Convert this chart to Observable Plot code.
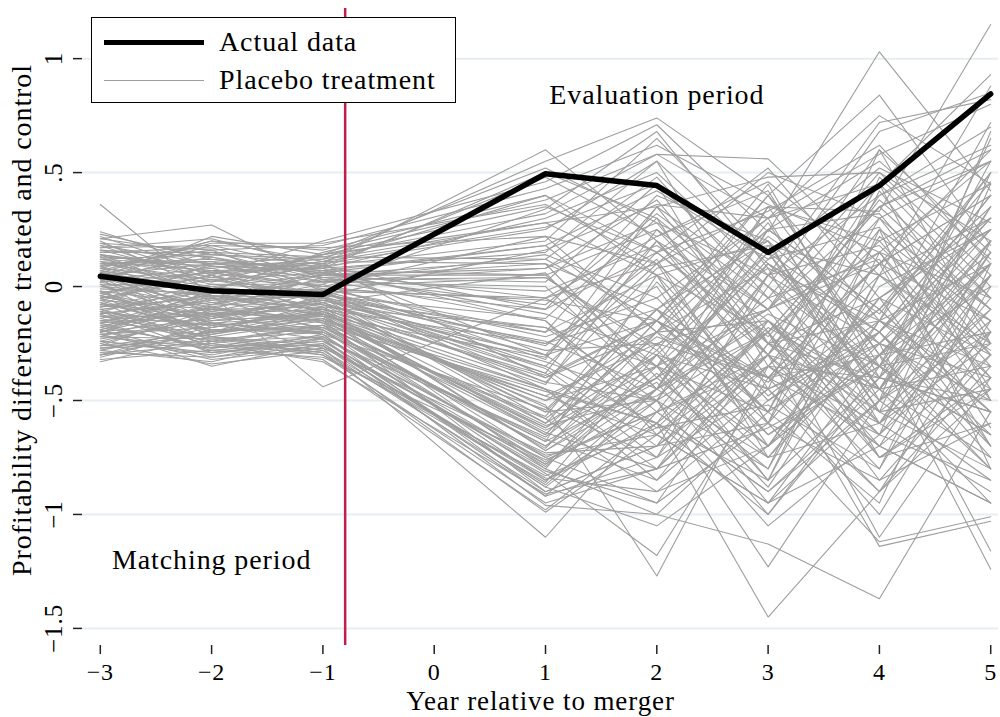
<!DOCTYPE html>
<html><head><meta charset="utf-8">
<script src="https://cdn.jsdelivr.net/npm/d3@7"></script>
<script src="https://cdn.jsdelivr.net/npm/@observablehq/plot@0.6"></script>
<style>
body{margin:0;background:#fff;}
#wrap{position:relative;width:1000px;height:717px;overflow:hidden;}
#legend{position:absolute;left:91px;top:17px;width:363px;height:84px;border:1.5px solid #000;background:#fff;font-family:"Liberation Serif",serif;font-size:28px;letter-spacing:0.9px;color:#000;}
#legend .sw{position:absolute;left:12px;width:100px;}
#legend .lb{position:absolute;left:127px;line-height:30px;white-space:nowrap;}
</style></head>
<body><div id="wrap"></div>
<script>
const years = [-3,-2,-1,1,2,3,4,5];
const xTicks = [-3,-2,-1,0,1,2,3,4,5];
const yTicks = [-1.5,-1,-0.5,0,0.5,1];
const treatmentYear = [-0.8];
const actual = [0.045,-0.018,-0.035,0.495,0.443,0.15,0.443,0.845];
const placebo = [
[0.36,-0.04,-0.08,-0.30,-0.15,-0.42,0.05,-0.28],
[0.23,0.12,0.06,0.18,0.42,0.12,0.52,0.28],
[0.21,0.27,0.03,0.04,-0.26,0.22,-0.12,0.46],
[0.19,0.05,0.20,0.46,0.71,0.24,1.03,0.42],
[0.17,0.18,0.17,0.22,0.10,0.35,0.33,1.15],
[0.14,0.08,0.12,0.55,0.74,0.40,0.84,0.18],
[0.12,0.14,0.10,0.60,0.20,-0.10,0.45,0.93],
[0.20,-0.02,0.15,0.38,0.58,0.56,0.10,0.60],
[0.10,0.11,0.08,0.30,0.50,0.05,0.72,0.82],
[0.08,0.02,0.14,0.28,0.35,0.48,0.50,0.05],
[0.16,0.13,0.02,0.14,-0.05,0.30,0.58,0.80],
[0.05,0.10,0.09,0.20,0.65,0.15,-0.20,0.25],
[0.13,-0.05,0.05,0.08,0.28,-0.30,0.40,0.62],
[0.02,0.06,0.11,0.10,-0.40,0.12,0.26,-0.45],
[0.09,0.16,-0.02,-0.05,0.22,0.42,-0.35,0.10],
[0.00,0.04,0.00,-0.10,0.15,-0.22,0.30,0.55],
[-0.02,-0.08,0.07,-0.15,-0.55,0.05,0.18,-0.30],
[0.07,0.00,-0.05,-0.20,0.05,-0.48,-0.10,0.35],
[-0.05,0.03,-0.03,-0.25,-0.10,0.20,-0.60,0.15],
[0.04,-0.10,0.04,-0.08,0.32,-0.05,0.12,-0.62],
[-0.08,-0.12,-0.06,-0.30,-0.62,-0.18,-0.45,0.05],
[0.11,0.07,-0.08,-0.35,0.10,-0.60,0.22,-0.15],
[-0.10,-0.04,-0.10,-0.40,-0.20,0.08,-0.75,-0.40],
[0.06,-0.15,-0.12,-0.45,-0.80,-0.35,0.10,0.40],
[-0.12,-0.06,-0.04,-0.38,0.25,-0.25,-0.05,-0.70],
[-0.15,-0.10,-0.14,-0.50,-0.35,-0.70,-0.30,0.20],
[0.03,-0.18,-0.09,-0.55,-0.10,0.30,-0.50,-0.20],
[-0.18,-0.02,-0.16,-0.48,-0.65,-0.20,0.35,-0.10],
[-0.07,-0.20,-0.11,-0.60,-0.30,-0.85,-0.40,-0.55],
[-0.20,-0.14,-0.07,-0.42,-0.50,0.10,-0.20,0.30],
[0.01,-0.22,-0.15,-0.65,-0.15,-0.40,-0.90,-0.35],
[-0.22,-0.09,-0.18,-0.58,-0.90,-0.50,-0.15,0.10],
[-0.04,-0.16,-0.20,-0.70,-0.40,-0.10,0.15,-0.50],
[-0.25,-0.12,-0.13,-0.62,-0.20,-0.65,-0.35,-0.80],
[-0.14,-0.24,-0.22,-0.75,-0.55,-0.30,-0.70,0.05],
[-0.09,-0.05,-0.19,-0.68,0.05,-0.75,-0.25,-0.40],
[-0.28,-0.18,-0.10,-0.72,-0.45,-0.05,-0.60,-0.25],
[-0.16,-0.28,-0.24,-0.80,-1.00,-0.55,-0.20,-0.65],
[-0.30,-0.20,-0.17,-0.78,-0.35,-0.95,-0.50,0.15],
[-0.11,-0.26,-0.26,-0.85,-0.60,-0.20,-0.85,-0.30],
[-0.24,-0.30,-0.21,-0.82,-1.18,-0.40,-0.10,-0.55],
[-0.33,-0.22,-0.28,-0.90,-0.70,-0.60,-1.12,-1.01],
[-0.19,-0.35,-0.25,-0.88,-0.50,-1.05,-0.65,-0.20],
[-0.27,-0.25,-0.30,-0.95,-0.80,-0.30,-1.14,-1.03],
[-0.21,-0.32,-0.27,-1.10,-0.55,-0.90,-0.45,-0.75],
[-0.13,-0.17,-0.23,-0.96,-1.00,-1.13,-1.37,-0.55],
[-0.06,-0.21,-0.12,-0.52,-1.27,-0.35,-0.60,-0.10],
[-0.17,-0.11,-0.15,-0.45,-0.60,-1.45,-0.90,-0.45],
[-0.03,-0.13,-0.06,-0.33,-0.50,-1.23,-0.50,-0.85],
[0.05,-0.07,-0.03,-0.28,-0.25,-0.40,-0.30,-1.24],
[-0.01,-0.03,-0.01,-0.22,-0.05,-0.55,-0.25,-1.16],
[0.08,0.03,0.06,-0.12,-0.30,0.15,-0.45,-0.95],
[0.12,0.09,0.04,0.02,0.45,-0.35,0.25,-0.80],
[0.15,0.15,0.13,0.12,-0.15,0.45,-0.40,0.65],
[0.18,0.10,0.10,0.25,0.55,-0.25,0.38,-0.05],
[0.06,0.20,0.16,0.40,0.05,0.20,-0.55,0.50],
[0.22,0.06,0.08,0.50,0.30,-0.45,0.60,-0.25],
[0.11,0.01,0.01,0.34,0.68,0.08,-0.15,0.72],
[0.03,0.08,-0.04,0.16,0.36,0.30,0.45,-0.50],
[-0.06,0.05,-0.07,0.06,-0.45,0.18,0.05,0.30],
[0.09,-0.06,0.03,-0.02,0.18,-0.15,-0.65,0.45],
[-0.11,0.00,-0.09,-0.18,-0.35,0.35,0.20,-0.35],
[0.00,-0.09,-0.02,-0.26,0.12,-0.60,0.48,0.00],
[-0.08,-0.14,-0.05,-0.36,-0.70,0.00,-0.35,0.55],
[-0.14,-0.01,-0.11,-0.43,0.20,-0.30,-0.80,0.20],
[0.04,-0.17,-0.14,-0.48,-0.25,-0.85,0.05,-0.40],
[-0.20,-0.08,-0.08,-0.53,-0.75,-0.15,-0.45,0.35],
[-0.05,-0.19,-0.18,-0.57,0.02,-0.50,-0.20,-0.75],
[-0.23,-0.15,-0.12,-0.63,-0.40,-0.80,0.25,-0.10],
[-0.10,-0.23,-0.20,-0.67,-0.85,-0.25,-0.55,-0.45],
[-0.26,-0.10,-0.16,-0.71,-0.20,-0.45,-1.00,-0.20],
[-0.17,-0.27,-0.22,-0.74,-0.65,-0.95,-0.30,0.10],
[-0.31,-0.19,-0.19,-0.77,-0.45,-0.20,-0.75,-0.60],
[-0.12,-0.29,-0.24,-0.81,-0.95,-0.60,-0.05,-0.30],
[-0.22,-0.23,-0.29,-0.86,-0.30,-0.75,-0.60,-0.90],
[-0.29,-0.31,-0.26,-0.92,-0.75,-0.45,-0.90,-0.15],
[-0.18,-0.26,-0.32,-0.98,-0.60,-1.00,-0.40,-0.50],
[-0.25,-0.34,-0.28,-0.84,-0.90,-0.70,-0.20,-0.70],
[-0.32,-0.28,-0.31,-0.76,-0.55,-0.35,-0.70,-0.95],
[0.14,-0.04,-0.44,-0.05,-0.35,0.10,-0.20,0.40],
[0.02,0.22,0.14,0.52,0.28,0.05,0.40,0.70],
[0.19,0.16,0.18,0.43,0.62,0.36,0.15,0.55],
[0.07,0.19,0.19,0.36,0.10,0.50,0.30,-0.10],
[0.16,0.04,0.11,0.26,0.45,0.00,0.68,0.85],
[0.10,0.12,0.07,0.18,-0.20,0.25,0.55,0.12],
[-0.04,0.09,0.02,0.08,0.38,-0.20,0.35,0.60],
[0.05,-0.11,-0.01,-0.06,-0.15,0.40,-0.30,0.25],
[-0.09,-0.02,-0.04,-0.14,0.30,-0.10,0.10,-0.15],
[-0.13,-0.13,-0.06,-0.24,-0.45,0.25,-0.10,0.50],
[0.01,-0.16,-0.13,-0.31,0.15,-0.25,-0.40,0.05],
[-0.19,-0.05,-0.10,-0.39,-0.15,-0.55,0.30,-0.30],
[-0.02,-0.24,-0.17,-0.46,-0.60,0.05,-0.25,0.15],
[-0.16,-0.12,-0.21,-0.54,-0.10,-0.40,-0.65,-0.05],
[-0.26,-0.20,-0.14,-0.61,-0.48,-0.12,-0.35,-0.65],
[-0.07,-0.27,-0.23,-0.66,-0.28,-0.70,0.00,0.25],
[-0.21,-0.16,-0.27,-0.73,-0.70,-0.30,-0.45,-0.35],
[-0.28,-0.33,-0.22,-0.79,-0.38,-0.88,-0.15,-0.55],
[-0.15,-0.22,-0.30,-0.83,-0.62,-0.52,-0.80,0.00],
[-0.24,-0.29,-0.25,-0.87,-0.45,-0.15,-0.55,-0.80],
[-0.30,-0.25,-0.33,-0.91,-0.80,-0.62,-0.35,-0.25],
[0.13,0.10,0.13,0.32,0.58,0.30,0.75,0.45],
[0.17,0.21,0.09,0.48,0.22,0.46,0.05,0.88],
[0.04,0.13,0.05,0.12,0.48,-0.05,0.50,0.20],
[-0.03,0.07,0.00,0.04,-0.28,0.28,-0.45,0.10],
[0.24,0.09,0.07,0.05,-0.35,-0.10,0.35,0.55],
[0.21,0.14,0.12,0.28,0.05,-0.20,0.15,-0.40],
[0.18,0.02,0.09,-0.10,0.40,0.20,-0.25,0.30],
[0.15,0.17,0.04,0.10,-0.10,-0.55,0.42,-0.20],
[0.12,0.04,0.14,0.35,0.15,0.52,-0.05,0.25],
[0.09,0.11,-0.01,-0.20,0.35,0.00,-0.50,0.68],
[0.06,-0.01,0.10,-0.40,-0.15,0.25,-0.10,-0.55],
[0.03,0.15,0.03,-0.15,-0.65,-0.30,0.20,0.45],
[0.00,-0.04,-0.05,-0.60,-0.10,-0.65,-0.30,0.00],
[-0.03,0.07,0.08,-0.30,0.20,-0.40,0.10,-0.70],
[-0.06,-0.10,-0.09,-0.72,-0.40,0.15,-0.55,-0.15],
[-0.09,0.01,-0.02,-0.45,-0.85,-0.45,-0.20,0.40],
[-0.12,-0.07,-0.12,-0.80,-0.25,-0.10,-0.75,-0.45],
[-0.15,-0.15,-0.07,-0.55,-0.50,-0.80,0.05,-0.25],
[-0.18,-0.09,-0.15,-0.90,-0.70,-0.35,-0.40,0.20],
[-0.21,-0.18,-0.11,-0.65,-0.15,-0.60,-0.85,-0.60],
[-0.24,-0.13,-0.19,-0.85,-0.55,-0.90,-0.50,-0.10],
[-0.27,-0.21,-0.14,-0.75,-0.95,-0.25,-0.65,-0.85],
[-0.30,-0.16,-0.21,-0.92,-0.45,-0.75,-0.15,-0.35],
[-0.10,-0.25,-0.17,-0.62,-0.35,-0.55,-0.95,0.10],
[-0.02,-0.20,-0.07,-0.38,-0.75,0.05,-0.40,-0.55],
[0.07,-0.12,-0.10,-0.25,0.00,-0.70,-0.05,0.30],
[0.11,-0.03,0.02,0.00,-0.45,0.35,-0.30,-0.20],
[-0.05,0.05,-0.12,-0.50,-0.20,-0.15,-0.70,-0.95],
[-0.16,-0.03,-0.03,-0.35,-0.60,-0.85,0.15,-0.05],
[-0.22,-0.27,-0.18,-0.70,-0.30,-0.45,-0.25,-0.50],
[0.01,0.00,0.05,0.05,0.25,-0.10,0.60,0.15],
[0.14,0.06,0.00,0.22,-0.20,0.40,-0.15,0.50],
[-0.08,0.10,0.06,-0.05,0.10,-0.30,0.45,-0.05],
[0.05,0.18,0.08,0.15,0.55,0.10,-0.35,0.35],
[-0.13,-0.22,-0.26,-0.78,-0.50,-0.20,-1.10,-0.40],
[-0.19,-0.31,-0.23,-0.88,-1.05,-0.70,-0.30,-0.80],
[-0.26,-0.24,-0.29,-0.99,-0.65,-0.95,-0.70,-0.30],
[-0.04,-0.14,-0.02,-0.42,0.08,0.18,-0.45,0.20],
[0.10,0.03,-0.06,-0.18,-0.50,0.25,0.32,-0.25],
[-0.11,-0.17,-0.04,-0.58,-0.22,-0.40,0.10,0.40],
[0.02,-0.08,0.01,-0.32,0.35,-0.25,-0.15,-0.45],
[-0.20,-0.04,-0.13,-0.64,-0.80,-0.15,-0.60,0.05],
[0.08,0.20,0.11,0.40,0.15,0.33,0.62,0.10],
[-0.07,-0.19,-0.20,-0.68,-0.42,-1.00,-0.35,-0.65]
];
const labels = {
  x: "Year relative to merger",
  y: "Profitability difference treated and control",
  actual: "Actual data",
  placebo: "Placebo treatment",
  evaluation: "Evaluation period",
  matching: "Matching period"
};
const notes = [
  {year: 2, value: 0.84, text: labels.evaluation},
  {year: -2, value: -1.2, text: labels.matching}
];

const placeboRows = placebo.flatMap((vals, i) => vals.map((v, j) => ({id: i, year: years[j], value: v})));
const actualRows = actual.map((v, j) => ({year: years[j], value: v}));
const fmt = d => (d < 0 ? "\u2212" : "") + String(Math.abs(d)).replace(/^0\./, ".");
const serif = "Liberation Serif, Times New Roman, serif";

const chart = Plot.plot({
  width: 1000, height: 717,
  marginLeft: 82, marginRight: 2, marginTop: 8, marginBottom: 72,
  x: {domain: [-3.16, 5.07]},
  y: {domain: [-1.575, 1.22]},
  style: {fontFamily: serif, background: "#fff", color: "#000", letterSpacing: "0.9px"},
  marks: [
    Plot.gridY(yTicks, {stroke: "#e6eef1", strokeOpacity: 1, strokeWidth: 2}),
    Plot.line(placeboRows, {x: "year", y: "value", z: "id", stroke: "#9e9e9e", strokeWidth: 1.1}),
    Plot.ruleX(treatmentYear, {stroke: "#c51d4b", strokeWidth: 2.5}),
    Plot.line(actualRows, {x: "year", y: "value", stroke: "#000", strokeWidth: 5.5, strokeLinejoin: "round", strokeLinecap: "round"}),
    Plot.text(notes, {x: "year", y: "value", text: "text", fontSize: 28, fill: "#000"}),
    Plot.axisX(xTicks, {tickSize: 9, tickPadding: 8, fontSize: 24, tickFormat: fmt, label: null, line: true, stroke: "#222", strokeWidth: 1.5}),
    Plot.axisY(yTicks, {tickSize: 9, tickPadding: 12, tickRotate: -90, fontSize: 25, tickFormat: fmt, label: null, line: true, stroke: "#222", strokeWidth: 1.5}),
    Plot.text([labels.x], {frameAnchor: "bottom", lineAnchor: "top", dy: 45, fontSize: 27, letterSpacing: "1.2px", fill: "#000"}),
    Plot.text([labels.y], {frameAnchor: "left", textAnchor: "middle", rotate: -90, lineAnchor: "middle", dx: -60, dy: -7, fontSize: 28, fill: "#000"})
  ]
});
const wrap = document.getElementById("wrap");
wrap.appendChild(chart);
const legend = document.createElement("div");
legend.id = "legend";
legend.innerHTML =
  `<div class="sw" style="top:22px;height:5px;background:#000"></div>` +
  `<div class="lb" style="top:9px">${labels.actual}</div>` +
  `<div class="sw" style="top:62px;height:1px;background:#9e9e9e"></div>` +
  `<div class="lb" style="top:47px">${labels.placebo}</div>`;
wrap.appendChild(legend);
</script></body></html>
